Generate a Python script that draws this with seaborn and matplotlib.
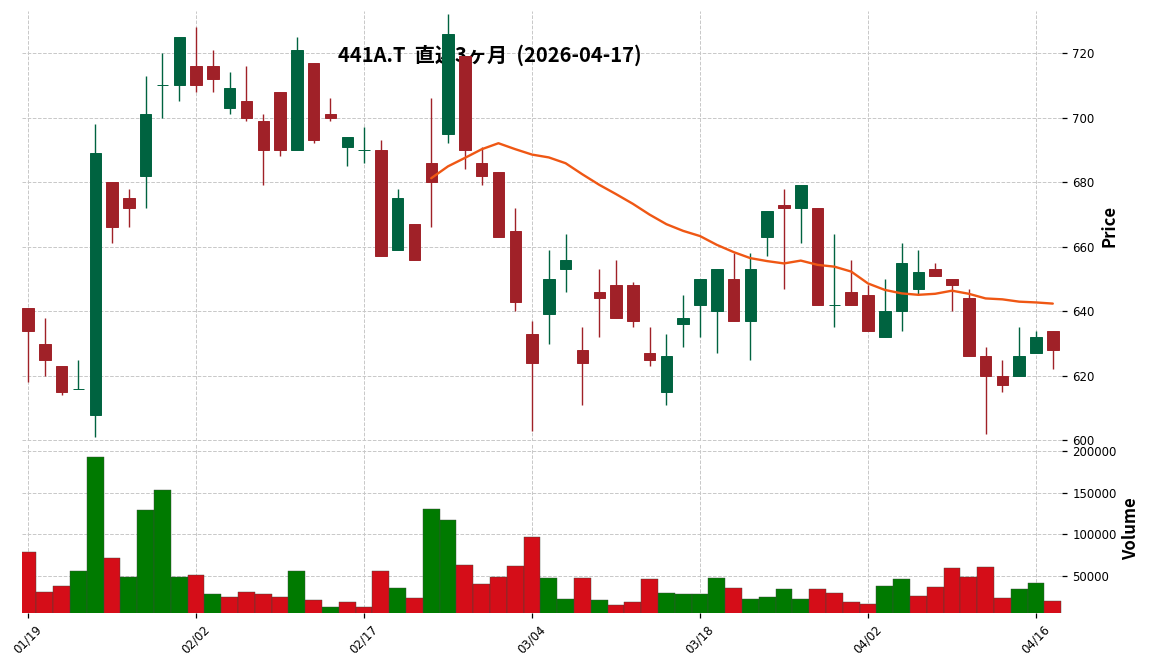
import numpy as np
import pandas as pd
import matplotlib
matplotlib.use('Agg')
import matplotlib.pyplot as plt
import seaborn as sns

TITLE = '441A.T  直近3ヶ月  (2026-04-17)'

dates = [
    '2026-01-19', '2026-01-20', '2026-01-21', '2026-01-22', '2026-01-23',
    '2026-01-26', '2026-01-27', '2026-01-28', '2026-01-29', '2026-01-30',
    '2026-02-02', '2026-02-03', '2026-02-04', '2026-02-05', '2026-02-06',
    '2026-02-09', '2026-02-10', '2026-02-12', '2026-02-13', '2026-02-16',
    '2026-02-17', '2026-02-18', '2026-02-19', '2026-02-20', '2026-02-24',
    '2026-02-25', '2026-02-26', '2026-02-27', '2026-03-02', '2026-03-03',
    '2026-03-04', '2026-03-05', '2026-03-06', '2026-03-09', '2026-03-10',
    '2026-03-11', '2026-03-12', '2026-03-13', '2026-03-16', '2026-03-17',
    '2026-03-18', '2026-03-19', '2026-03-23', '2026-03-24', '2026-03-25',
    '2026-03-26', '2026-03-27', '2026-03-30', '2026-03-31', '2026-04-01',
    '2026-04-02', '2026-04-03', '2026-04-06', '2026-04-07', '2026-04-08',
    '2026-04-09', '2026-04-10', '2026-04-13', '2026-04-14', '2026-04-15',
    '2026-04-16', '2026-04-17',
]

opens = [641, 630, 623, 616, 608, 680, 675, 682, 710, 710,
         716, 716, 703, 705, 699, 708, 690, 717, 701, 691,
         690, 690, 659, 667, 686, 695, 719, 686, 683, 665,
         633, 639, 653, 628, 646, 648, 648, 627, 615, 636,
         642, 640, 650, 637, 663, 673, 672, 672, 642, 646,
         645, 632, 640, 647, 653, 650, 644, 626, 620, 620,
         627, 634]
highs = [641, 638, 623, 625, 698, 680, 678, 713, 720, 725,
         728, 721, 714, 716, 701, 708, 725, 717, 706, 694,
         697, 693, 678, 667, 706, 732, 719, 691, 683, 672,
         637, 659, 664, 635, 653, 656, 649, 635, 633, 645,
         650, 653, 658, 658, 671, 678, 679, 672, 664, 656,
         648, 650, 661, 659, 655, 650, 647, 629, 625, 635,
         634, 634]
lows = [618, 620, 614, 616, 601, 661, 666, 672, 700, 705,
        708, 708, 701, 699, 679, 688, 690, 692, 699, 685,
        686, 657, 659, 656, 666, 692, 684, 679, 663, 640,
        603, 630, 646, 611, 632, 638, 635, 623, 611, 629,
        632, 627, 637, 625, 657, 647, 661, 642, 635, 642,
        634, 632, 634, 645, 651, 640, 626, 602, 615, 620,
        627, 622]
closes = [634, 625, 615, 616, 689, 666, 672, 701, 710, 725,
          710, 712, 709, 700, 690, 690, 721, 693, 700, 694,
          690, 657, 675, 656, 680, 726, 690, 682, 663, 643,
          624, 650, 656, 624, 644, 638, 637, 625, 626, 638,
          650, 653, 637, 653, 671, 672, 679, 642, 642, 642,
          634, 640, 655, 652, 651, 648, 626, 620, 617, 626,
          632, 628]
volumes = [78500, 30300, 37500, 55600, 193200, 71300, 48800, 129200, 153400, 48800,
           50800, 27900, 24300, 30300, 27900, 24300, 55600, 20600, 12200, 18200,
           12200, 55600, 35100, 23000, 130400, 117200, 62900, 39900, 48800, 61700,
           96700, 47200, 21800, 47200, 20600, 14600, 18200, 46000, 29100, 27900,
           27900, 47200, 35100, 21800, 24300, 33900, 21800, 33900, 29100, 18200,
           15800, 37500, 46000, 25500, 36300, 59300, 48400, 60500, 23000, 33900,
           41200, 19400]

MA_WINDOW = 25

UP_C, DOWN_C = '#006340', '#a02128'
VUP_C, VDOWN_C = '#007a00', '#d50d18'
MA_C = '#ef5714'
GRID_C = '#c8c8c8'

df = pd.DataFrame({'date': pd.to_datetime(dates), 'open': opens, 'high': highs,
                   'low': lows, 'close': closes, 'volume': volumes})
df['idx'] = np.arange(len(df))
df['ma'] = df['close'].rolling(MA_WINDOW).mean()
prev_close = df['close'].shift(1).fillna(df['open'])
df['vdir'] = np.where(df['close'] > prev_close, 'up', 'down')
candle_colors = np.where(df['close'] >= df['open'], UP_C, DOWN_C)

sns.set_theme(style='whitegrid')
plt.rcParams['font.family'] = ['DejaVu Sans', 'Noto Sans CJK JP']
plt.rcParams['axes.edgecolor'] = 'white'
for key in ('text.color', 'axes.labelcolor', 'xtick.color', 'ytick.color'):
    plt.rcParams[key] = 'black'

fig = plt.figure(figsize=(11.52, 6.70), dpi=100)
ax_p = fig.add_axes([0.0191, 0.3418, 0.9028, 0.6418])
ax_v = fig.add_axes([0.0191, 0.0851, 0.9028, 0.2522], sharex=ax_p)

# candles
body_lo = np.minimum(df['open'], df['close'])
body_h = (df['close'] - df['open']).abs()
ax_p.vlines(df['idx'], df['low'], df['high'], colors=candle_colors, linewidth=1.0, zorder=3)
ax_p.bar(df['idx'], body_h, bottom=body_lo, width=0.68, color=candle_colors,
         edgecolor=candle_colors, linewidth=0.7, zorder=4)
sns.lineplot(x=df['idx'], y=df['ma'], ax=ax_p, color=MA_C, linewidth=1.7, zorder=5)

# volume, coloured by close vs previous close
sns.barplot(data=df, x='idx', y='volume', hue='vdir', hue_order=['up', 'down'],
            palette={'up': VUP_C, 'down': VDOWN_C}, saturation=1, dodge=False, width=1.0,
            native_scale=True, errorbar=None, legend=False, ax=ax_v,
            edgecolor='#3a4a3a', linewidth=0.3)

ax_p.text(0.4253, 0.918, TITLE, transform=fig.transFigure, ha='center', va='center',
          fontsize=14.5, fontweight='bold', color='black',
          family=['Noto Sans CJK JP', 'DejaVu Sans'], zorder=1)

for ax in (ax_p, ax_v):
    ax.grid(True, color=GRID_C, linestyle='--', linewidth=0.7)
    ax.set_axisbelow(True)
    for s in ax.spines.values():
        s.set_visible(False)
    ax.yaxis.tick_right()
    ax.yaxis.set_label_position('right')
    ax.tick_params(axis='y', which='major', right=True, left=False, length=3.5,
                   width=0.9, color='black', labelcolor='black', labelsize=8.5, pad=4)

ax_p.set_xlim(-0.36, 61.55)
ax_p.set_ylim(599.8, 733)
ax_p.set_yticks(np.arange(600, 721, 20))
ax_p.set_xlabel('')
ax_p.set_ylabel('Price', fontsize=12, fontweight='bold', color='black', family='Noto Sans CJK JP')
ax_p.tick_params(axis='x', bottom=False, labelbottom=False)

ax_v.set_ylim(4950, 208500)
ax_v.set_yticks([50000, 100000, 150000, 200000])
ax_v.ticklabel_format(axis='y', style='plain', useOffset=False)
ax_v.set_ylabel('Volume', fontsize=12, fontweight='bold', color='black', family='Noto Sans CJK JP')
ax_v.set_xlabel('')
tick_pos = df['idx'].iloc[::10].to_numpy()
ax_v.set_xticks(tick_pos)
ax_v.set_xticklabels(df['date'].iloc[::10].dt.strftime('%m/%d'), rotation=45)
ax_v.tick_params(axis='x', bottom=True, length=3.5, width=0.9, color='black',
                 labelcolor='black', labelsize=8.5, pad=4)
ax_v.set_xlim(-0.36, 61.55)

fig.savefig('out.png', dpi=100)
